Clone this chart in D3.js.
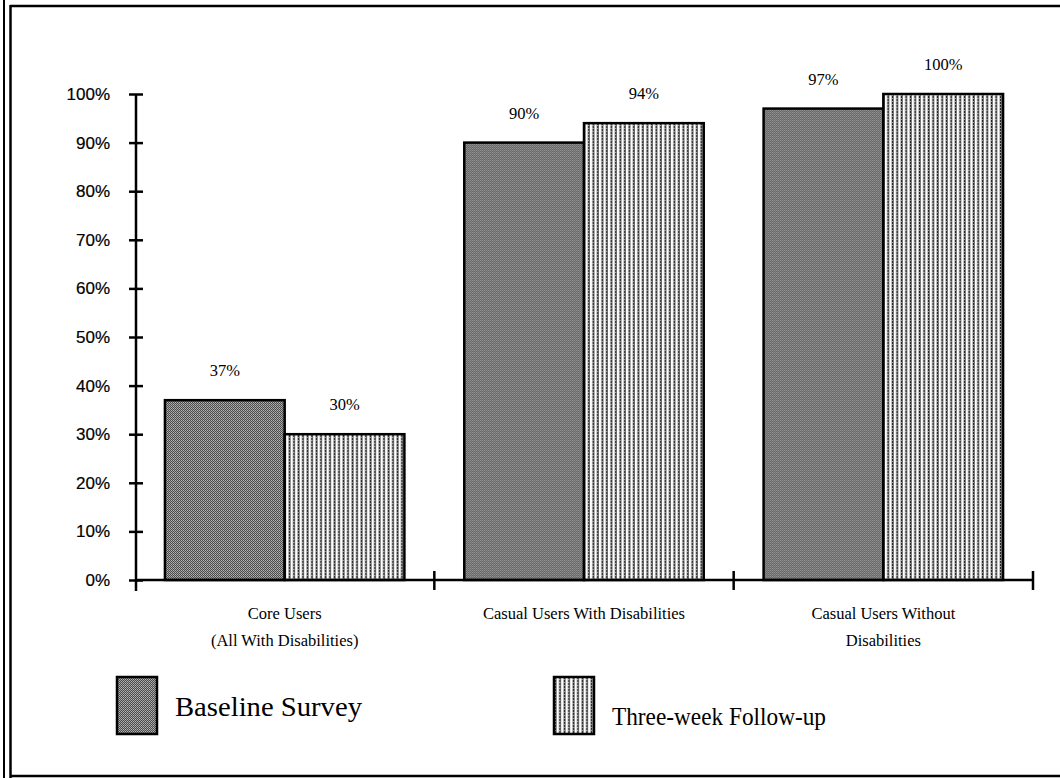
<!DOCTYPE html>
<html>
<head>
<meta charset="utf-8">
<script src="https://cdn.jsdelivr.net/npm/d3@7"></script>
<style>
  body { margin: 0; background: #fff; }
  svg { display: block; }
</style>
</head>
<body>
<div id="chart"></div>
<script>
// data
var categories = ["core", "casualWith", "casualWithout"];
var categoryLines = [
    ["Core Users", "(All With Disabilities)"],
    ["Casual Users With Disabilities"],
    ["Casual Users Without", "Disabilities"]
];
var seriesNames = ["Baseline Survey", "Three-week Follow-up"];
var baseline = [0.37, 0.90, 0.97];
var followUp = [0.30, 0.94, 1.00];
var yTicks = [0, 0.1, 0.2, 0.3, 0.4, 0.5, 0.6, 0.7, 0.8, 0.9, 1.0];

var width = 1060, height = 778;

var svg = d3.select("#chart").append("svg")
    .attr("width", width)
    .attr("height", height);

var defs = svg.append("defs");

// dark stipple for the baseline bars
var dots = defs.append("pattern")
    .attr("id", "stipple")
    .attr("patternUnits", "userSpaceOnUse")
    .attr("width", 2).attr("height", 2);
dots.append("rect").attr("width", 2).attr("height", 2).attr("fill", "#4a4a4a");
dots.append("rect").attr("width", 1).attr("height", 1).attr("fill", "#b8b8b8");
dots.append("rect").attr("x", 1).attr("y", 1).attr("width", 1).attr("height", 1).attr("fill", "#9c9c9c");

// dotted vertical stripes for the follow-up bars
var stripes = defs.append("pattern")
    .attr("id", "stripes")
    .attr("patternUnits", "userSpaceOnUse")
    .attr("width", 4.5).attr("height", 3);
stripes.append("rect").attr("width", 4.5).attr("height", 3).attr("fill", "#fff");
stripes.append("rect").attr("x", 0.6).attr("width", 1.8).attr("height", 3).attr("fill", "#222");
stripes.append("rect").attr("x", 0.6).attr("y", 2).attr("width", 0.9).attr("height", 1).attr("fill", "#ddd");

var fills = ["url(#stipple)", "url(#stripes)"];

// page frame (double rule on the left, single top and bottom)
var frame = svg.append("g").attr("stroke", "#000").attr("fill", "none");
frame.append("line").attr("x1", 4).attr("x2", 4).attr("y1", 0).attr("y2", height).attr("stroke-width", 2);
frame.append("line").attr("x1", 10.5).attr("x2", 10.5).attr("y1", 5).attr("y2", height).attr("stroke-width", 2.5);
frame.append("line").attr("x1", 10).attr("x2", width).attr("y1", 6).attr("y2", 6).attr("stroke-width", 2.5);
frame.append("line").attr("x1", 10).attr("x2", width).attr("y1", 776).attr("y2", 776).attr("stroke-width", 2.5);

var x0 = d3.scaleBand()
    .domain(categories)
    .range([135, 1033]);

var x1 = d3.scaleBand()
    .domain([0, 1])
    .range([0, x0.bandwidth()])
    .paddingOuter(0.25);

var y = d3.scaleLinear()
    .domain([0, 1])
    .range([580, 94]);

var rows = categories.map(function(c, i) {
    return { cat: c, vals: [baseline[i], followUp[i]] };
});

var groups = svg.selectAll(".group")
    .data(rows)
  .enter().append("g")
    .attr("class", "group")
    .attr("transform", function(d) { return "translate(" + x0(d.cat) + ",0)"; });

groups.selectAll("rect")
    .data(function(d) { return d.vals.map(function(v, s) { return { v: v, s: s }; }); })
  .enter().append("rect")
    .attr("x", function(d) { return x1(d.s); })
    .attr("y", function(d) { return y(d.v); })
    .attr("width", x1.bandwidth())
    .attr("height", function(d) { return y(0) - y(d.v); })
    .attr("fill", function(d) { return fills[d.s]; })
    .attr("stroke", "#000")
    .attr("stroke-width", 2.5);

groups.selectAll(".val")
    .data(function(d) { return d.vals.map(function(v, s) { return { v: v, s: s }; }); })
  .enter().append("text")
    .attr("class", "val")
    .attr("x", function(d) { return x1(d.s) + x1.bandwidth() / 2; })
    .attr("y", function(d) { return y(d.v) - 24; })
    .attr("text-anchor", "middle")
    .attr("font-family", "Liberation Serif, serif")
    .attr("font-size", 16.5)
    .text(function(d) { return Math.round(d.v * 100) + "%"; });

// y axis
var yAxis = d3.axisLeft(y)
    .tickValues(yTicks)
    .tickFormat(d3.format(".0%"))
    .tickSize(7)
    .tickPadding(19);

var gy = svg.append("g")
    .attr("transform", "translate(136,0)")
    .call(yAxis);
gy.select(".domain").remove();
gy.append("line").attr("x1", 0).attr("x2", 0).attr("y1", y(1)).attr("y2", 591)
    .attr("stroke", "#000").attr("stroke-width", 2.5);
gy.selectAll(".tick line").attr("x1", 7).attr("stroke-width", 2.5);
gy.selectAll(".tick text")
    .attr("font-family", "Liberation Sans, Arial, sans-serif")
    .attr("font-size", 17)
    .attr("fill", "#000")
    .attr("stroke", "#000")
    .attr("stroke-width", 0.2);

// x axis with ticks at category boundaries
var bounds = categories.map(function(c) { return x0(c); }).concat([x0.range()[1]]);
var gx = svg.append("g");
gx.append("line")
    .attr("x1", 135).attr("x2", 1033)
    .attr("y1", y(0)).attr("y2", y(0))
    .attr("stroke", "#000").attr("stroke-width", 2.5);
gx.selectAll(".xt")
    .data(bounds.slice(1))
  .enter().append("line")
    .attr("class", "xt")
    .attr("x1", function(d) { return d; }).attr("x2", function(d) { return d; })
    .attr("y1", y(0) - 9).attr("y2", y(0) + 10)
    .attr("stroke", "#000").attr("stroke-width", 2.5);

// category labels
var catLabels = svg.selectAll(".cat")
    .data(categories)
  .enter().append("text")
    .attr("class", "cat")
    .attr("text-anchor", "middle")
    .attr("font-family", "Liberation Serif, serif")
    .attr("font-size", 16.5)
    .attr("transform", function(d) { return "translate(" + (x0(d) + x0.bandwidth() / 2) + ",619)"; });

catLabels.selectAll("tspan")
    .data(function(d, i) { return categoryLines[i]; })
  .enter().append("tspan")
    .attr("x", 0)
    .attr("y", function(d, i) { return i * 27; })
    .text(function(d) { return d; });

// legend
var legendX = [117, 554];
var legendTextWidth = [187, 214];
var legendFontSize = [28, 26];
var legend = svg.selectAll(".legend")
    .data(seriesNames)
  .enter().append("g")
    .attr("class", "legend")
    .attr("transform", function(d, i) { return "translate(" + legendX[i] + ",677)"; });

legend.append("rect")
    .attr("width", 40)
    .attr("height", 57)
    .attr("fill", function(d, i) { return fills[i]; })
    .attr("stroke", "#000")
    .attr("stroke-width", 2.5);

legend.append("text")
    .attr("x", 58)
    .attr("y", function(d, i) { return i === 0 ? 39 : 48; })
    .attr("font-family", "Liberation Serif, serif")
    .attr("font-size", function(d, i) { return legendFontSize[i]; })
    .attr("textLength", function(d, i) { return legendTextWidth[i]; })
    .attr("lengthAdjust", "spacingAndGlyphs")
    .text(function(d) { return d; });
</script>
</body>
</html>
